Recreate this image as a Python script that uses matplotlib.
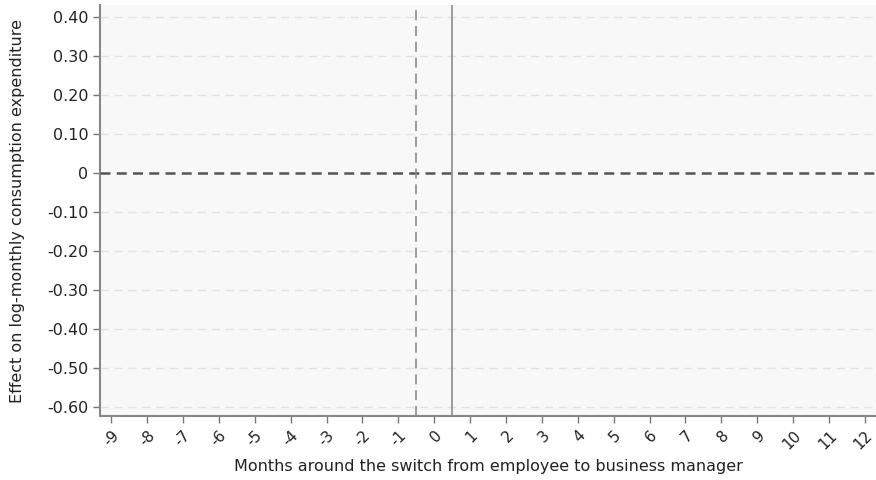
import matplotlib
matplotlib.use('Agg')
import matplotlib.pyplot as plt

# Eixos do gráfico de estudo de eventos
meses = list(range(-9, 13))
rot_meses = [str(m) for m in meses]
y_ticks = [0.40, 0.30, 0.20, 0.10, 0.0, -0.10, -0.20, -0.30, -0.40, -0.50, -0.60]
y_rot = ['0.40', '0.30', '0.20', '0.10', '0', '-0.10', '-0.20', '-0.30', '-0.40', '-0.50', '-0.60']
linha_pre = -0.5   # último mês antes da troca
linha_troca = 0.5  # mês da troca

fig = plt.figure(figsize=(8.76, 4.8), dpi=100)
ax = fig.add_axes([0.1142, 0.1333, 0.8858, 0.8563])
ax.set_facecolor('#f8f8f8')

for yv in y_ticks:
    if yv != 0:
        ax.axhline(yv, color='#e2e2e2', lw=1.0, ls=(0, (6, 4)), zorder=1)
ax.axhline(0, color='#555555', lw=1.8, ls=(0, (4, 2.5)), zorder=3)
ax.axvline(linha_pre, color='#8c8c8c', lw=1.2, ls=(0, (6, 3.5)), zorder=3)
ax.axvline(linha_troca, color='#8c8c8c', lw=1.2, zorder=3)

ax.set_xlim(-9.31, 12.31)
ax.set_ylim(-0.623, 0.43)
ax.set_xticks(meses)
ax.set_xticklabels(rot_meses, rotation=45, ha='right', rotation_mode='anchor')
ax.set_yticks(y_ticks)
ax.set_yticklabels(y_rot)
ax.tick_params(axis='both', colors='#777777', labelcolor='#222222', labelsize=11.5, length=5, width=1.0)
ax.tick_params(axis='x', labelsize=11)

for s in ['top', 'right']:
    ax.spines[s].set_visible(False)
for s in ['left', 'bottom']:
    ax.spines[s].set_color('#888888')
    ax.spines[s].set_linewidth(1.5)

ax.set_ylabel('Effect on log-monthly consumption expenditure', fontsize=11.5, color='#222222', labelpad=16)
ax.set_xlabel('Months around the switch from employee to business manager', fontsize=11.5, color='#222222', labelpad=5)

plt.savefig('out.png', dpi=100)
